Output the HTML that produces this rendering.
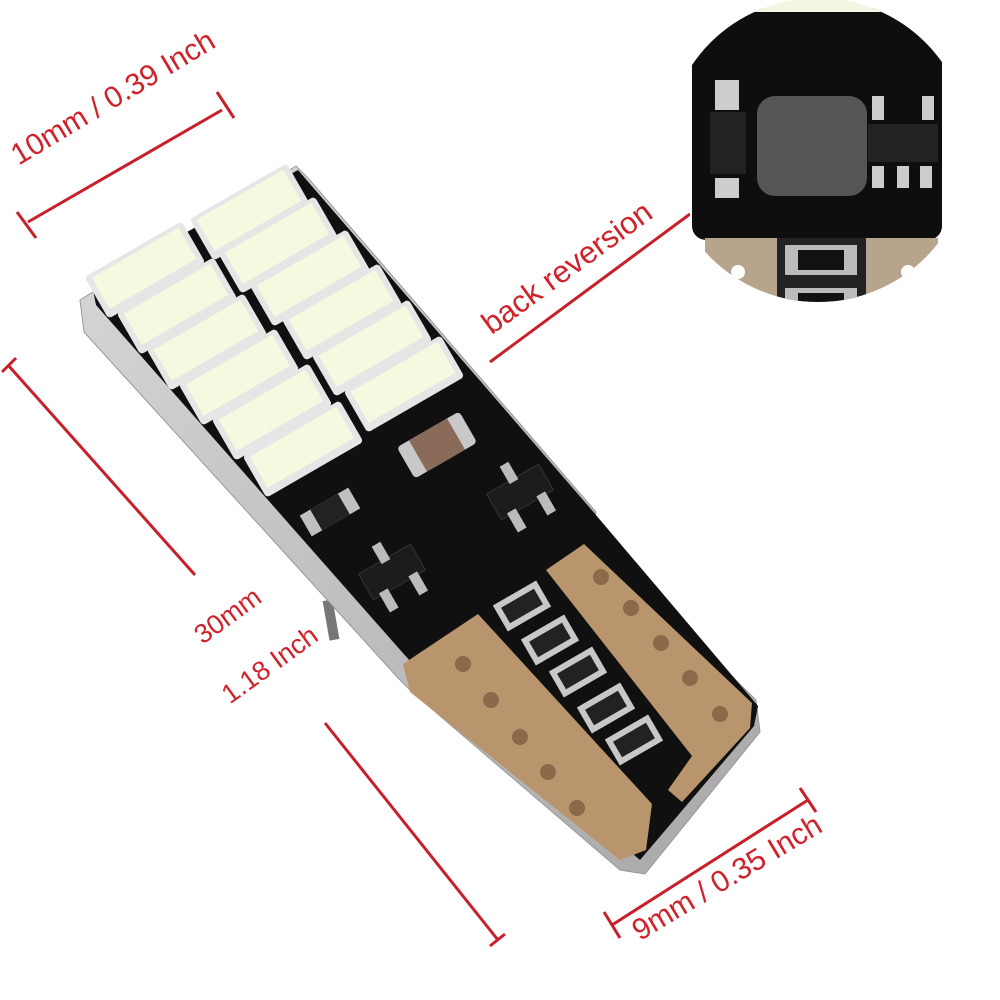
<!DOCTYPE html>
<html><head><meta charset="utf-8"><style>
html,body{margin:0;padding:0;background:#fff;}
svg{display:block}
text{font-family:"Liberation Sans",sans-serif;fill:#d0222a;}
</style></head><body>
<svg width="1000" height="1000" viewBox="0 0 1000 1000" xmlns="http://www.w3.org/2000/svg">
<defs>
<clipPath id="ic"><circle cx="818" cy="150" r="152"/></clipPath>
<linearGradient id="sil" x1="0" y1="0" x2="1" y2="1"><stop offset="0" stop-color="#d8d8d8"/><stop offset="1" stop-color="#a8a8a8"/></linearGradient>
</defs>
<g stroke="#c8202a" stroke-width="3" fill="none">
<line x1="28" y1="222" x2="222" y2="110"/><line x1="17" y1="212" x2="36" y2="238"/><line x1="217" y1="92" x2="234" y2="118"/>
<line x1="490" y1="362" x2="690" y2="214"/>
<line x1="8" y1="365" x2="195" y2="575"/><line x1="2" y1="372" x2="16" y2="358"/>
<line x1="325" y1="723" x2="498" y2="940"/><line x1="490" y1="946" x2="505" y2="934"/>
<line x1="612" y1="925" x2="808" y2="800"/><line x1="604" y1="912" x2="620" y2="938"/><line x1="800" y1="788" x2="816" y2="812"/>
</g>
<text x="0" y="0" font-size="30" text-anchor="middle" transform="translate(118,106) rotate(-31)">10mm / 0.39 Inch</text>
<text x="0" y="0" font-size="31" text-anchor="middle" transform="translate(573,276) rotate(-36)">back reversion</text>
<text x="0" y="0" font-size="27" text-anchor="middle" transform="translate(233,623) rotate(-36)">30mm</text>
<text x="0" y="0" font-size="27" text-anchor="middle" transform="translate(275,672) rotate(-36)">1.18 Inch</text>
<text x="0" y="0" font-size="30" text-anchor="middle" transform="translate(732,886) rotate(-31)">9mm / 0.35 Inch</text>

<!-- bulb -->
<rect x="326" y="600" width="10" height="40" fill="#777" transform="rotate(-10 331 620)"/>
<polygon points="80,300 296,166 308,178 596,512 592,538 756,700 760,732 645,874 620,870 412,692 398,678 340,614 84,332" fill="url(#sil)" stroke="#999"/>
<polygon points="92,285 298,170 590,508 758,706 754,726 640,860 560,792 420,672 402,652 96,305" fill="#101010"/>
<polygon points="403,664 478,614 652,804 646,850 620,860 410,692" fill="#b9956e"/>
<polygon points="546,570 584,544 752,703 750,728 682,802 668,790 692,756" fill="#b9956e"/>
<g fill="#8a6a48">
<circle cx="463" cy="664" r="8"/><circle cx="491" cy="700" r="8"/><circle cx="520" cy="737" r="8"/><circle cx="548" cy="772" r="8"/><circle cx="577" cy="808" r="8"/>
<circle cx="601" cy="577" r="8"/><circle cx="631" cy="608" r="8"/><circle cx="661" cy="643" r="8"/><circle cx="690" cy="678" r="8"/><circle cx="720" cy="714" r="8"/>
</g>
<g>
<g transform="translate(145,270) rotate(-30)"><rect x="-56" y="-24" width="112" height="48" rx="4" fill="#e6e6e6"/><rect x="-50" y="-20" width="100" height="36" fill="#f6f8e0"/></g>
<g transform="translate(177,306) rotate(-30)"><rect x="-56" y="-24" width="112" height="48" rx="4" fill="#e6e6e6"/><rect x="-50" y="-20" width="100" height="36" fill="#f6f8e0"/></g>
<g transform="translate(207,342) rotate(-30)"><rect x="-56" y="-24" width="112" height="48" rx="4" fill="#e6e6e6"/><rect x="-50" y="-20" width="100" height="36" fill="#f6f8e0"/></g>
<g transform="translate(239,377) rotate(-30)"><rect x="-56" y="-24" width="112" height="48" rx="4" fill="#e6e6e6"/><rect x="-50" y="-20" width="100" height="36" fill="#f6f8e0"/></g>
<g transform="translate(272,412) rotate(-30)"><rect x="-56" y="-24" width="112" height="48" rx="4" fill="#e6e6e6"/><rect x="-50" y="-20" width="100" height="36" fill="#f6f8e0"/></g>
<g transform="translate(303,449) rotate(-30)"><rect x="-56" y="-24" width="112" height="48" rx="4" fill="#e6e6e6"/><rect x="-50" y="-20" width="100" height="36" fill="#f6f8e0"/></g>
<g transform="translate(250,212) rotate(-30)"><rect x="-56" y="-24" width="112" height="48" rx="4" fill="#e6e6e6"/><rect x="-50" y="-20" width="100" height="36" fill="#f6f8e0"/></g>
<g transform="translate(278,245) rotate(-30)"><rect x="-56" y="-24" width="112" height="48" rx="4" fill="#e6e6e6"/><rect x="-50" y="-20" width="100" height="36" fill="#f6f8e0"/></g>
<g transform="translate(310,278) rotate(-30)"><rect x="-56" y="-24" width="112" height="48" rx="4" fill="#e6e6e6"/><rect x="-50" y="-20" width="100" height="36" fill="#f6f8e0"/></g>
<g transform="translate(342,312) rotate(-30)"><rect x="-56" y="-24" width="112" height="48" rx="4" fill="#e6e6e6"/><rect x="-50" y="-20" width="100" height="36" fill="#f6f8e0"/></g>
<g transform="translate(372,348) rotate(-30)"><rect x="-56" y="-24" width="112" height="48" rx="4" fill="#e6e6e6"/><rect x="-50" y="-20" width="100" height="36" fill="#f6f8e0"/></g>
<g transform="translate(404,384) rotate(-30)"><rect x="-56" y="-24" width="112" height="48" rx="4" fill="#e6e6e6"/><rect x="-50" y="-20" width="100" height="36" fill="#f6f8e0"/></g>
</g>
<g transform="translate(437,445) rotate(-30)"><rect x="-36" y="-18" width="72" height="36" rx="4" fill="#c8c8c8"/><rect x="-22" y="-18" width="44" height="36" fill="#8a6a58"/></g>
<g transform="translate(330,512) rotate(-30)"><rect x="-28" y="-12" width="56" height="24" fill="#c0c0c0"/><rect x="-16" y="-12" width="32" height="24" fill="#222"/></g>
<g transform="translate(520,492) rotate(-30)"><rect x="-30" y="-15" width="60" height="30" fill="#1c1c1c" stroke="#333"/><rect x="-22" y="12" width="10" height="22" fill="#bbb"/><rect x="12" y="12" width="10" height="22" fill="#bbb"/><rect x="-5" y="-32" width="10" height="20" fill="#bbb"/></g>
<g transform="translate(392,572) rotate(-30)"><rect x="-30" y="-15" width="60" height="30" fill="#1c1c1c" stroke="#333"/><rect x="-22" y="12" width="10" height="22" fill="#bbb"/><rect x="12" y="12" width="10" height="22" fill="#bbb"/><rect x="-5" y="-32" width="10" height="20" fill="#bbb"/></g>
<g fill="#222" stroke="#c8c8c8" stroke-width="6">
<rect x="-22" y="-12" width="44" height="24" transform="translate(522,606) rotate(-30)"/>
<rect x="-22" y="-12" width="44" height="24" transform="translate(550,640) rotate(-30)"/>
<rect x="-22" y="-12" width="44" height="24" transform="translate(578,672) rotate(-30)"/>
<rect x="-22" y="-12" width="44" height="24" transform="translate(606,708) rotate(-30)"/>
<rect x="-22" y="-12" width="44" height="24" transform="translate(634,740) rotate(-30)"/>
</g>

<!-- inset -->
<g clip-path="url(#ic)">
<rect x="690" y="0" width="260" height="320" fill="#fff"/>
<rect x="692" y="8" width="250" height="232" rx="14" fill="#0e0e0e"/>
<rect x="705" y="238" width="72" height="80" fill="#b7a48c"/>
<rect x="866" y="238" width="72" height="80" fill="#b7a48c"/>
<rect x="777" y="238" width="89" height="82" fill="#222"/>
<circle cx="738" cy="272" r="7" fill="#fff"/><circle cx="908" cy="272" r="7" fill="#fff"/>
<rect x="785" y="245" width="72" height="30" fill="#bbb"/><rect x="798" y="250" width="46" height="20" fill="#111"/>
<rect x="785" y="288" width="72" height="30" fill="#bbb"/><rect x="798" y="293" width="46" height="20" fill="#111"/>
<rect x="757" y="96" width="110" height="100" rx="18" fill="#555"/>
<rect x="710" y="112" width="36" height="62" fill="#222"/>
<rect x="715" y="80" width="24" height="30" fill="#ccc"/><rect x="715" y="178" width="24" height="20" fill="#ccc"/>
<rect x="868" y="124" width="70" height="38" fill="#222"/>
<rect x="872" y="96" width="12" height="24" fill="#ccc"/><rect x="922" y="96" width="12" height="24" fill="#ccc"/>
<rect x="872" y="166" width="12" height="22" fill="#ccc"/><rect x="897" y="166" width="12" height="22" fill="#ccc"/><rect x="920" y="166" width="12" height="22" fill="#ccc"/>
<rect x="690" y="0" width="260" height="12" fill="#f4f6e4"/>
</g>
</svg>
</body></html>
